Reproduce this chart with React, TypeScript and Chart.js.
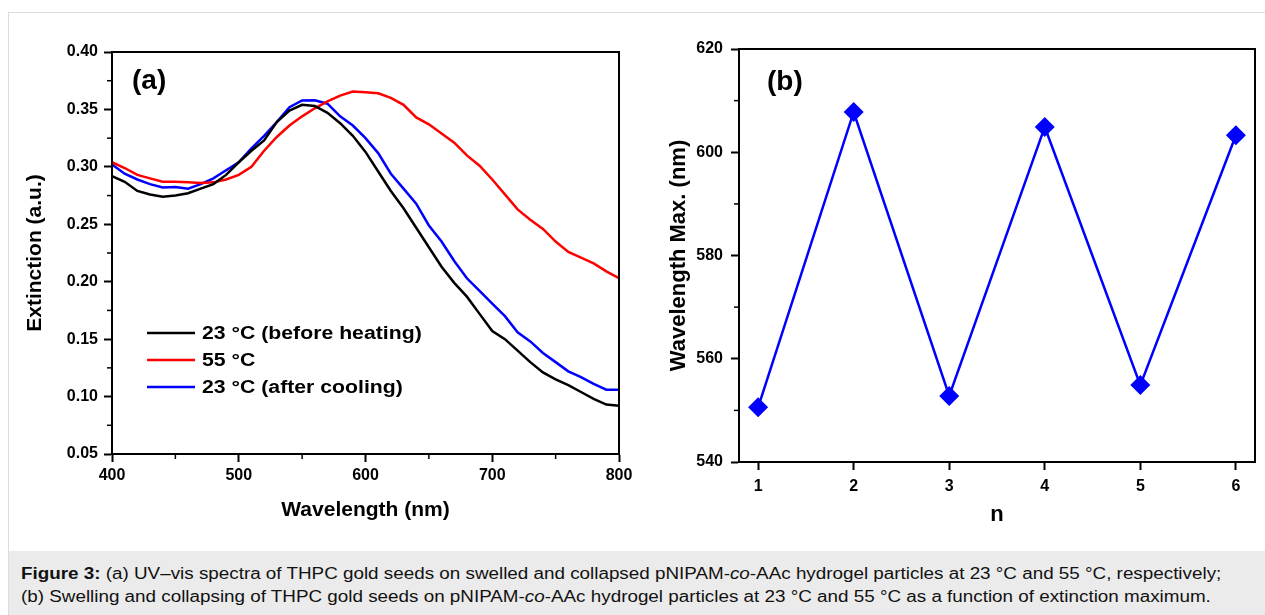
import React, { useEffect, useRef } from "react";
import { Chart, registerables } from "chart.js";

Chart.register(...registerables);

// ---------- data ----------
const wavelengths = [
  400, 410, 420, 430, 440, 450, 460, 470, 480, 490, 500, 510, 520, 530, 540, 550, 560, 570, 580, 590, 600,
  610, 620, 630, 640, 650, 660, 670, 680, 690, 700, 710, 720, 730, 740, 750, 760, 770, 780, 790, 800,
];
const beforeHeating = [
  0.292, 0.287, 0.279, 0.276, 0.274, 0.275, 0.277, 0.281, 0.285, 0.293, 0.304, 0.314, 0.323, 0.339, 0.349,
  0.354, 0.353, 0.347, 0.338, 0.327, 0.313, 0.296, 0.279, 0.264, 0.247, 0.23, 0.213, 0.199, 0.187, 0.172,
  0.157, 0.15, 0.14, 0.13, 0.121, 0.115, 0.11, 0.104, 0.098, 0.093, 0.092,
];
const heated = [
  0.304, 0.299, 0.293, 0.29, 0.287, 0.287, 0.2865, 0.286, 0.2865, 0.289, 0.293, 0.3, 0.314, 0.326, 0.336,
  0.344, 0.351, 0.357, 0.362, 0.3655, 0.365, 0.364, 0.36, 0.354, 0.343, 0.337, 0.329, 0.321, 0.31, 0.301,
  0.289, 0.276, 0.263, 0.254, 0.246, 0.235, 0.226, 0.221, 0.216, 0.209, 0.203,
];
const afterCooling = [
  0.302, 0.294, 0.289, 0.285, 0.282, 0.2825, 0.281, 0.285, 0.29, 0.297, 0.304, 0.316, 0.327, 0.339, 0.352,
  0.3578, 0.358, 0.355, 0.344, 0.336, 0.325, 0.312, 0.294, 0.281, 0.268, 0.249, 0.235, 0.218, 0.203, 0.192,
  0.181, 0.17, 0.156, 0.148, 0.138, 0.13, 0.122, 0.117, 0.111, 0.106, 0.106,
];
const seriesLabels = ["23 °C (before heating)", "55 °C", "23 °C (after cooling)"];
const seriesColors = ["#000000", "#ff0000", "#0000ff"];

const cycles = [1, 2, 3, 4, 5, 6];
const peakWavelength = [550.6, 607.8, 552.8, 604.9, 554.9, 603.3];

const FONT = "'Liberation Sans', Arial, Helvetica, sans-serif";

// ---------- plugin: frame, minor ticks, panel label, legend ----------
const panelPlugin = {
  id: "panel",
  afterDraw(chart: any, _args: any, opts: any) {
    const { ctx, chartArea: a } = chart;
    ctx.save();
    // frame
    ctx.strokeStyle = "#000";
    ctx.lineWidth = 2;
    ctx.strokeRect(a.left, a.top, a.right - a.left, a.bottom - a.top);
    // minor ticks
    const minor = opts.minor || {};
    ctx.lineWidth = 1.5;
    for (const id of Object.keys(minor)) {
      const s = chart.scales[id];
      const step = minor[id];
      const n = Math.round((s.max - s.min) / step);
      for (let k = 1; k < n; k += 2) {
        const v = s.min + k * step;
        const p = s.getPixelForValue(v);
        ctx.beginPath();
        if (id === "x") {
          ctx.moveTo(p, a.bottom);
          ctx.lineTo(p, a.bottom + 5);
        } else {
          ctx.moveTo(a.left, p);
          ctx.lineTo(a.left - 5, p);
        }
        ctx.stroke();
      }
    }
    // panel label
    ctx.fillStyle = "#000";
    ctx.font = `bold 28px ${FONT}`;
    ctx.textBaseline = "middle";
    ctx.textAlign = "left";
    ctx.fillText(opts.label, a.left + opts.dx, a.top + opts.dy);
    // legend
    if (opts.legend) {
      const L = opts.legend;
      ctx.font = `bold 18px ${FONT}`;
      chart.data.datasets.forEach((ds: any, i: number) => {
        const y = a.top + L.y0 + i * L.gap;
        ctx.strokeStyle = ds.borderColor;
        ctx.lineWidth = 2.5;
        ctx.beginPath();
        ctx.moveTo(a.left + L.x0, y);
        ctx.lineTo(a.left + L.x1, y);
        ctx.stroke();
        ctx.fillStyle = "#000";
        ctx.save();
        ctx.translate(a.left + L.tx, y + 1);
        ctx.scale(L.sx, 1);
        ctx.fillText(ds.label, 0, 0);
        ctx.restore();
      });
    }
    ctx.restore();
  },
};

function axisBase(fontSize: number, pad: number) {
  return {
    grid: { drawOnChartArea: false, tickLength: 8, tickWidth: 2, tickColor: "#000" },
    border: { color: "#000", width: 2 },
    ticks: { color: "#000", font: { family: FONT, size: fontSize, weight: "bold" as const }, padding: pad },
  };
}

function titleOpts(text: string, size: number, padding: any) {
  return { display: true, text, color: "#000", font: { family: FONT, size, weight: "bold" as const }, padding };
}

export default function App() {
  const refA = useRef<HTMLCanvasElement>(null);
  const refB = useRef<HTMLCanvasElement>(null);

  useEffect(() => {
    const series = [beforeHeating, heated, afterCooling];
    const chartA = new Chart(refA.current!, {
      type: "line",
      data: {
        datasets: series.map((vals, i) => ({
          label: seriesLabels[i],
          data: wavelengths.map((w, j) => ({ x: w, y: vals[j] })),
          borderColor: seriesColors[i],
          backgroundColor: seriesColors[i],
          borderWidth: 2.5,
          pointRadius: 0,
          tension: 0,
        })),
      },
      options: {
        responsive: false,
        animation: false,
        layout: { padding: { top: 52, right: 21, left: 0, bottom: 0 } },
        plugins: {
          legend: { display: false },
          tooltip: { enabled: false },
          panel: {
            label: "(a)",
            dx: 20,
            dy: 29,
            minor: { x: 50, y: 0.025 },
            legend: { x0: 35, x1: 83, tx: 90, y0: 281, gap: 27, sx: 1.18 },
          },
        } as any,
        scales: {
          x: {
            type: "linear",
            min: 400,
            max: 800,
            ...axisBase(16, 4),
            ticks: { ...axisBase(16, 4).ticks, stepSize: 100 },
            title: titleOpts("Wavelength (nm)", 21, { top: 0, bottom: 27 }),
            afterFit: (s: any) => {
              s.height = 96;
            },
          },
          y: {
            min: 0.05,
            max: 0.4,
            ...axisBase(16, 6),
            ticks: { ...axisBase(16, 6).ticks, stepSize: 0.05, callback: (v: any) => Number(v).toFixed(2) },
            title: titleOpts("Extinction (a.u.)", 21, { top: 23, bottom: 0 }),
            afterFit: (s: any) => {
              s.width = 112;
            },
          },
        },
      },
      plugins: [panelPlugin],
    });

    const chartB = new Chart(refB.current!, {
      type: "line",
      data: {
        datasets: [
          {
            label: "Wavelength Max.",
            data: cycles.map((c, i) => ({ x: c, y: peakWavelength[i] })),
            borderColor: "#0000ff",
            backgroundColor: "#0000ff",
            borderWidth: 2.5,
            pointStyle: "rectRot",
            pointRadius: 10,
            pointBorderWidth: 0,
            tension: 0,
          },
        ],
      },
      options: {
        responsive: false,
        animation: false,
        layout: { padding: { top: 49, right: 4, left: 0, bottom: 0 } },
        plugins: {
          legend: { display: false },
          tooltip: { enabled: false },
          panel: { label: "(b)", dx: 28, dy: 33, minor: { y: 10 } },
        } as any,
        scales: {
          x: {
            type: "linear",
            min: 0.8,
            max: 6.2,
            ...axisBase(16, 7),
            ticks: { ...axisBase(16, 7).ticks, stepSize: 1 },
            afterBuildTicks: (s: any) => {
              s.ticks = cycles.map((c) => ({ value: c }));
            },
            title: titleOpts("n", 22, { top: 0, bottom: 22 }),
            afterFit: (s: any) => {
              s.height = 88;
            },
          },
          y: {
            min: 540,
            max: 620,
            ...axisBase(16, 8),
            ticks: { ...axisBase(16, 8).ticks, stepSize: 20 },
            title: titleOpts("Wavelength Max. (nm)", 22, { top: 26, bottom: 0 }),
            afterFit: (s: any) => {
              s.width = 99;
            },
          },
        },
      },
      plugins: [panelPlugin],
    });

    return () => {
      chartA.destroy();
      chartB.destroy();
    };
  }, []);

  return (
    <div style={{ position: "relative", width: 1265, height: 615, overflow: "hidden", background: "#fff" }}>
      <style>{`html,body{margin:0;padding:0;overflow:hidden;background:#fff}`}</style>
      <div
        style={{
          position: "absolute",
          left: 8,
          top: 12,
          width: 1300,
          height: 700,
          border: "1px solid #dcdcdc",
          boxSizing: "border-box",
        }}
      />
      <canvas ref={refA} width={640} height={550} style={{ position: "absolute", left: 0, top: 0 }} />
      <canvas ref={refB} width={625} height={550} style={{ position: "absolute", left: 640, top: 0 }} />
      <div
        style={{
          position: "absolute",
          left: 9,
          top: 551,
          width: 1300,
          height: 80,
          background: "#ebebeb",
          boxSizing: "border-box",
          padding: "11px 0 0 12px",
          fontFamily: FONT,
          fontSize: 16,
          lineHeight: "23px",
          color: "#111",
          whiteSpace: "nowrap",
        }}
      >
        <div style={{ transform: "scaleX(1.177)", transformOrigin: "left top" }}>
          <b>Figure 3:</b> (a) UV–vis spectra of THPC gold seeds on swelled and collapsed pNIPAM-<i>co</i>-AAc
          hydrogel particles at 23 °C and 55 °C, respectively;
          <br />
          (b) Swelling and collapsing of THPC gold seeds on pNIPAM-<i>co</i>-AAc hydrogel particles at 23 °C and 55
          °C as a function of extinction maximum.
        </div>
      </div>
    </div>
  );
}
